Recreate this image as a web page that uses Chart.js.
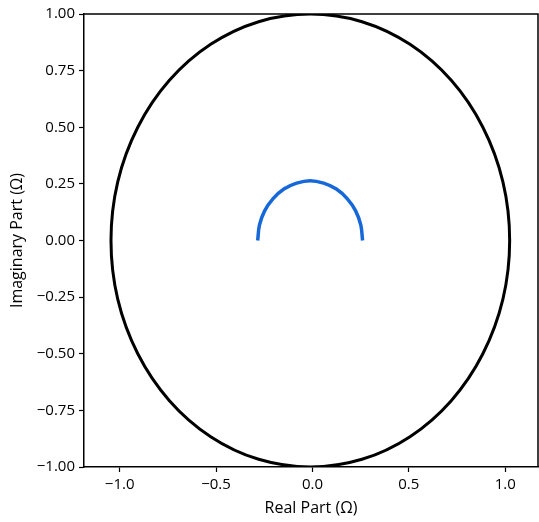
<!DOCTYPE html>
<html>
<head>
<meta charset="utf-8">
<script src="https://cdn.jsdelivr.net/npm/chart.js@4.4.1/dist/chart.umd.min.js"></script>
<style>
  html, body { margin: 0; padding: 0; background: #fff; }
  #wrap { width: 539px; height: 522px; }
</style>
</head>
<body>
<div id="wrap"><canvas id="chart"></canvas></div>
<script>
// outer boundary curve, every 15 degrees (closed loop)
const circleX = [1.023, 0.988, 0.884, 0.720, 0.506, 0.257, -0.011, -0.279, -0.528, -0.742, -0.906, -1.010, -1.045,
  -1.010, -0.906, -0.742, -0.528, -0.279, -0.011, 0.257, 0.506, 0.720, 0.884, 0.988];
const circleY = [0, 0.259, 0.5, 0.707, 0.866, 0.966, 1, 0.966, 0.866, 0.707, 0.5, 0.259, 0,
  -0.259, -0.5, -0.707, -0.866, -0.966, -1, -0.966, -0.866, -0.707, -0.5, -0.259];

// blue impedance arc
const arcX = [0.260, 0.251, 0.224, 0.180, 0.124, 0.058, -0.012, -0.082, -0.148, -0.204, -0.248, -0.275, -0.284];
const arcY = [0, 0.068, 0.131, 0.185, 0.227, 0.253, 0.264, 0.253, 0.227, 0.185, 0.131, 0.068, 0];

const xTicks = [-1.0, -0.5, 0.0, 0.5, 1.0];
const yTicks = [-1.0, -0.75, -0.5, -0.25, 0.0, 0.25, 0.5, 0.75, 1.0];

const toPoints = (xs, ys) => xs.map((x, i) => ({ x: x, y: ys[i] }));
const minus = s => s.replace('-', '\u2212');

// make the first dataset a closed smooth loop (same flags the radar chart uses)
const closeLoop = {
  id: 'closeLoop',
  afterDatasetsUpdate(chart) {
    const line = chart.getDatasetMeta(0).dataset;
    line._loop = true;
    line._fullLoop = true;
    delete line._segments;
    delete line._path;
    line._pointsUpdated = false;
  }
};

// draw top and right spines
const frame = {
  id: 'frame',
  afterDraw(chart) {
    const a = chart.chartArea;
    const ctx = chart.ctx;
    ctx.save();
    ctx.strokeStyle = '#000';
    ctx.lineWidth = 1.5;
    ctx.beginPath();
    ctx.moveTo(a.left, a.top);
    ctx.lineTo(a.right, a.top);
    ctx.lineTo(a.right, a.bottom);
    ctx.stroke();
    ctx.restore();
  }
};

Chart.defaults.font.family = '"Open Sans", "DejaVu Sans", sans-serif';
Chart.defaults.color = '#000';

new Chart(document.getElementById('chart'), {
  type: 'scatter',
  data: {
    datasets: [
      {
        data: toPoints(circleX, circleY),
        showLine: true,
        borderColor: '#000',
        borderWidth: 3,
        pointRadius: 0,
        tension: 0.34
      },
      {
        data: toPoints(arcX, arcY),
        showLine: true,
        borderColor: '#1668d9',
        borderWidth: 3.5,
        pointRadius: 0,
        tension: 0.34
      }
    ]
  },
  options: {
    responsive: true,
    maintainAspectRatio: false,
    animation: false,
    layout: { padding: { top: 14, right: 1, left: 0, bottom: 0 } },
    plugins: { legend: { display: false }, tooltip: { enabled: false } },
    scales: {
      x: {
        type: 'linear',
        min: -1.185,
        max: 1.17,
        afterFit: s => { s.height = 55; },
        afterBuildTicks: s => { s.ticks = xTicks.map(v => ({ value: v })); },
        ticks: {
          font: { size: 15 },
          padding: 4,
          maxRotation: 0,
          callback: v => minus(v.toFixed(1))
        },
        grid: { drawOnChartArea: false, drawTicks: true, tickLength: 5, color: '#000', tickWidth: 1.2 },
        border: { display: true, color: '#000', width: 1.5 },
        title: { display: true, text: 'Real Part (\u03a9)', font: { size: 16 }, padding: { top: 0, bottom: 4 } }
      },
      y: {
        type: 'linear',
        min: -1,
        max: 1,
        afterFit: s => { s.width = 84; },
        afterBuildTicks: s => { s.ticks = yTicks.map(v => ({ value: v })); },
        ticks: {
          font: { size: 15 },
          padding: 4,
          callback: v => minus(v.toFixed(2))
        },
        grid: { drawOnChartArea: false, drawTicks: true, tickLength: 5, color: '#000', tickWidth: 1.2 },
        border: { display: true, color: '#000', width: 1.5 },
        title: { display: true, text: 'Imaginary Part (\u03a9)', font: { size: 16 }, padding: { top: 8, bottom: 0 } }
      }
    }
  },
  plugins: [closeLoop, frame]
});
</script>
</body>
</html>
